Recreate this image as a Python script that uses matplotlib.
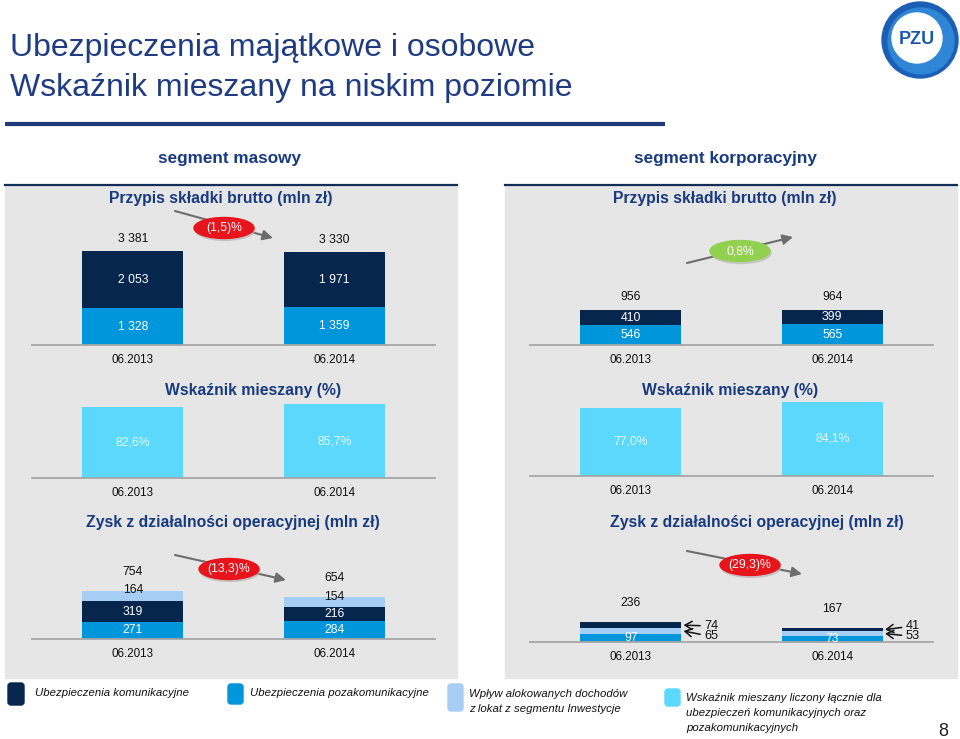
import matplotlib
matplotlib.use('Agg')
import matplotlib.pyplot as plt
from matplotlib.patches import Rectangle, Ellipse, Circle, FancyBboxPatch

plt.rcParams['font.family'] = ['Liberation Sans', 'DejaVu Sans']

# ---------------- data ----------------
categories = ['06.2013', '06.2014']
gwp_mass_motor = [2053, 1971]
gwp_mass_nonmotor = [1328, 1359]
gwp_corp_motor = [410, 399]
gwp_corp_nonmotor = [546, 565]
cr_mass = [82.6, 85.7]
cr_corp = [77.0, 84.1]
op_mass_nonmotor = [271, 284]
op_mass_motor = [319, 216]
op_mass_invest = [164, 154]
op_corp_nonmotor = [97, 73]
op_corp_invest = [65, 53]
op_corp_motor = [74, 41]
change_labels = ['(1,5)%', '0,8%', '(13,3)%', '(29,3)%']

# ---------------- style ----------------
NAVY = '#06264d'
BLUE = '#0096db'
PALE = '#a6cdf3'
CYAN = '#5bd8fb'
HEAD = '#173a80'
TITLE = '#1f3b82'
GRAY_BG = '#e6e6e6'
RED = '#e8141b'
GREEN = '#92d050'
NUM_FS = 8.8

W, H = 960, 739
fig = plt.figure(figsize=(W / 100, H / 100), dpi=100)
bg = fig.add_axes([0, 0, 1, 1])
bg.set_xlim(0, W)
bg.set_ylim(H, 0)
bg.axis('off')


def fmt_num(v):
    return f"{v:,}".replace(",", " ")


def fmt_pct(v):
    return f"{v:.1f}%".replace(".", ",")


# ---------------- title & logo ----------------
bg.text(10, 48, 'Ubezpieczenia majątkowe i osobowe', fontsize=23, color=TITLE, va='center', ha='left')
bg.text(10, 88, 'Wskaźnik mieszany na niskim poziomie', fontsize=23, color=TITLE, va='center', ha='left')
bg.plot([5, 665], [124, 124], color='#1f3a7a', lw=3, solid_capstyle='butt')

bg.add_patch(Circle((920, 40), 38, color='#1b5fb5', zorder=2))
bg.add_patch(Circle((921, 41), 33, color='#2f86d6', zorder=2))
bg.add_patch(Circle((917, 38), 25, color='white', zorder=3))
bg.text(917, 39, 'PZU', fontsize=13, fontweight='bold', color='#1b58ad', ha='center', va='center', zorder=4)

# ---------------- panels ----------------
for x0, x1 in [(5, 457), (505, 957)]:
    bg.add_patch(Rectangle((x0, 185), x1 - x0, 678 - 185, color=GRAY_BG, zorder=0))
    bg.plot([x0, x1], [185, 185], color='#0f2d57', lw=1.6, zorder=1)

bg.text(230, 159, 'segment masowy', fontsize=12.3, fontweight='bold', color=HEAD, ha='center', va='center')
bg.text(725, 159, 'segment korporacyjny', fontsize=12.3, fontweight='bold', color=HEAD, ha='center', va='center')

for x, y, s in [(221, 198, 'Przypis składki brutto (mln zł)'), (725, 198, 'Przypis składki brutto (mln zł)'),
                (253, 390, 'Wskaźnik mieszany (%)'), (730, 391, 'Wskaźnik mieszany (%)'),
                (233, 523, 'Zysk z działalności operacyjnej (mln zł)'),
                (757, 523, 'Zysk z działalności operacyjnej (mln zł)')]:
    bg.text(x, y, s, fontsize=11.3, fontweight='bold', color=HEAD, ha='center', va='center')


def make_ax(x0, x1, base, top, ymax):
    ax = fig.add_axes([x0 / W, 1 - base / H, (x1 - x0) / W, (base - top) / H])
    ax.set_xlim(-0.5, 1.5)
    ax.set_ylim(0, ymax)
    ax.patch.set_alpha(0)
    for s in ['top', 'left', 'right']:
        ax.spines[s].set_visible(False)
    ax.spines['bottom'].set_color('#a6a6a6')
    ax.spines['bottom'].set_linewidth(1.3)
    ax.set_yticks([])
    ax.set_xticks([0, 1])
    ax.set_xticklabels(categories, fontsize=8.4, color='#111111')
    ax.tick_params(axis='x', length=0, pad=6.5)
    return ax


BW = 0.5
xs = [0, 1]


def stacked(ax, series, colors):
    bottoms = [0, 0]
    out = []
    for vals, c in zip(series, colors):
        ax.bar(xs, vals, width=BW, bottom=bottoms, color=c, zorder=2)
        out.append(list(bottoms))
        bottoms = [b + v for b, v in zip(bottoms, vals)]
    return out, bottoms


# ---- Panel 1 left: GWP mass ----
ax = make_ax(32, 435, 345, 235, 3957)
bots, tots = stacked(ax, [gwp_mass_nonmotor, gwp_mass_motor], [BLUE, NAVY])
for i in xs:
    for vals, b in zip([gwp_mass_nonmotor, gwp_mass_motor], bots):
        ax.text(i, b[i] + vals[i] / 2, fmt_num(vals[i]), color='white', fontsize=NUM_FS, ha='center', va='center', zorder=3)
    ax.annotate(fmt_num(tots[i]), (i, tots[i]), xytext=(0, 8.6), textcoords='offset points',
                ha='center', va='center', fontsize=NUM_FS, color='#111111', annotation_clip=False)

# ---- Panel 1 right: GWP corporate ----
ax = make_ax(530, 933, 345, 235, 3005)
bots, tots = stacked(ax, [gwp_corp_nonmotor, gwp_corp_motor], [BLUE, NAVY])
for i in xs:
    for vals, b in zip([gwp_corp_nonmotor, gwp_corp_motor], bots):
        ax.text(i, b[i] + vals[i] / 2, fmt_num(vals[i]), color='white', fontsize=NUM_FS, ha='center', va='center', zorder=3)
    ax.annotate(fmt_num(tots[i]), (i, tots[i]), xytext=(0, 9.3), textcoords='offset points',
                ha='center', va='center', fontsize=NUM_FS, color='#111111', annotation_clip=False)

# ---- Panel 2: combined ratio ----
for vals, (x0, x1, base, top, ymax) in [(cr_mass, (32, 435, 478, 400, 90.7)),
                                        (cr_corp, (530, 933, 476, 398, 88.3))]:
    ax = make_ax(x0, x1, base, top, ymax)
    ax.bar(xs, vals, width=BW, color=CYAN, zorder=2)
    for i in xs:
        ax.text(i, vals[i] / 2, fmt_pct(vals[i]), color='#e6f7ff', fontsize=NUM_FS, ha='center', va='center', zorder=3)

# ---- Panel 3 left: operating profit mass ----
ax = make_ax(32, 435, 639, 560, 1240)
series = [op_mass_nonmotor, op_mass_motor, op_mass_invest]
bots, tots = stacked(ax, series, [BLUE, NAVY, PALE])
for i in xs:
    for vals, b in zip(series[:2], bots[:2]):
        ax.text(i, b[i] + vals[i] / 2, fmt_num(vals[i]), color='white', fontsize=NUM_FS, ha='center', va='center', zorder=3)
    ax.annotate(fmt_num(op_mass_invest[i]), (i, tots[i]), xytext=(0, 0.6), textcoords='offset points',
                ha='center', va='center', fontsize=NUM_FS, color='#111111', zorder=3)
    ax.annotate(fmt_num(tots[i]), (i, tots[i]), xytext=(0, 13.7), textcoords='offset points',
                ha='center', va='center', fontsize=NUM_FS, color='#111111', annotation_clip=False)

# ---- Panel 3 right: operating profit corporate ----
ax = make_ax(530, 933, 642, 560, 968)
series = [op_corp_nonmotor, op_corp_invest, op_corp_motor]
bots, tots = stacked(ax, series, [BLUE, PALE, NAVY])
for i in xs:
    ax.text(i, bots[0][i] + op_corp_nonmotor[i] / 2, fmt_num(op_corp_nonmotor[i]), color='white',
            fontsize=NUM_FS, ha='center', va='center', zorder=3)
    ax.annotate(fmt_num(tots[i]), (i, tots[i]), xytext=(0, 13.7), textcoords='offset points',
                ha='center', va='center', fontsize=NUM_FS, color='#111111', annotation_clip=False)
    # side labels with arrows: motor (upper) and investment (lower)
    for vals, b, ypt in [(op_corp_motor, bots[2], 11.5), (op_corp_invest, bots[1], 4.0)]:
        ax.annotate(fmt_num(vals[i]), xy=(i + BW / 2 + 0.012, b[i] + vals[i] / 2),
                    xytext=(i + BW / 2 + 0.115, ypt), textcoords=('data', 'axes points'),
                    ha='left', va='center', fontsize=9.2, color='#111111', annotation_clip=False,
                    arrowprops=dict(arrowstyle='->,head_length=0.55,head_width=0.32', color='#111111',
                                    lw=1.1, shrinkA=1, shrinkB=0))

# ---------------- change bubbles ----------------
bubbles = [((175, 211), (273, 238), (224, 228), RED),
           ((687, 263), (793, 237), (740, 251), GREEN),
           ((175, 555), (286, 580), (229, 569), RED),
           ((687, 551), (802, 574), (750, 565), RED)]
for (p0, p1, c, col), lab in zip(bubbles, change_labels):
    bg.annotate('', xy=p1, xytext=p0, arrowprops=dict(arrowstyle='-|>,head_length=0.6,head_width=0.3',
                                                      color='#6d6d6d', lw=1.5, shrinkA=0, shrinkB=0), zorder=5)
    bg.add_patch(Ellipse((c[0] + 1, c[1] + 2), 60, 21, color='#b0b0b0', alpha=0.5, zorder=6))
    bg.add_patch(Ellipse(c, 60, 21, color=col, zorder=7))
    bg.text(c[0], c[1], lab, color='white', fontsize=8.8, ha='center', va='center', zorder=8)

# ---------------- legend ----------------
legend_items = [
    ((8, 683, 16, 22), NAVY, 35, ['Ubezpieczenia komunikacyjne'], 693),
    ((228, 684, 15, 20), BLUE, 250, ['Ubezpieczenia pozakomunikacyjne'], 693),
    ((448, 684, 15, 27), PALE, 469, ['Wpływ alokowanych dochodów', 'z lokat z segmentu Inwestycje'], 694),
    ((665, 689, 15, 17), CYAN, 686, ['Wskaźnik mieszany liczony łącznie dla', 'ubezpieczeń komunikacyjnych oraz',
                                     'pozakomunikacyjnych'], 698),
]
for (x, y, w, h), col, tx, lines, ty in legend_items:
    bg.add_patch(FancyBboxPatch((x, y), w, h, boxstyle='round,pad=0,rounding_size=3', color=col, zorder=2))
    for k, line in enumerate(lines):
        bg.text(tx, ty + 15 * k, line, fontsize=8.2, fontstyle='italic', color='#111111', ha='left', va='center')

bg.text(943, 731, '8', fontsize=13, color='#222222', ha='center', va='center')

fig.savefig('out.png', dpi=100)
